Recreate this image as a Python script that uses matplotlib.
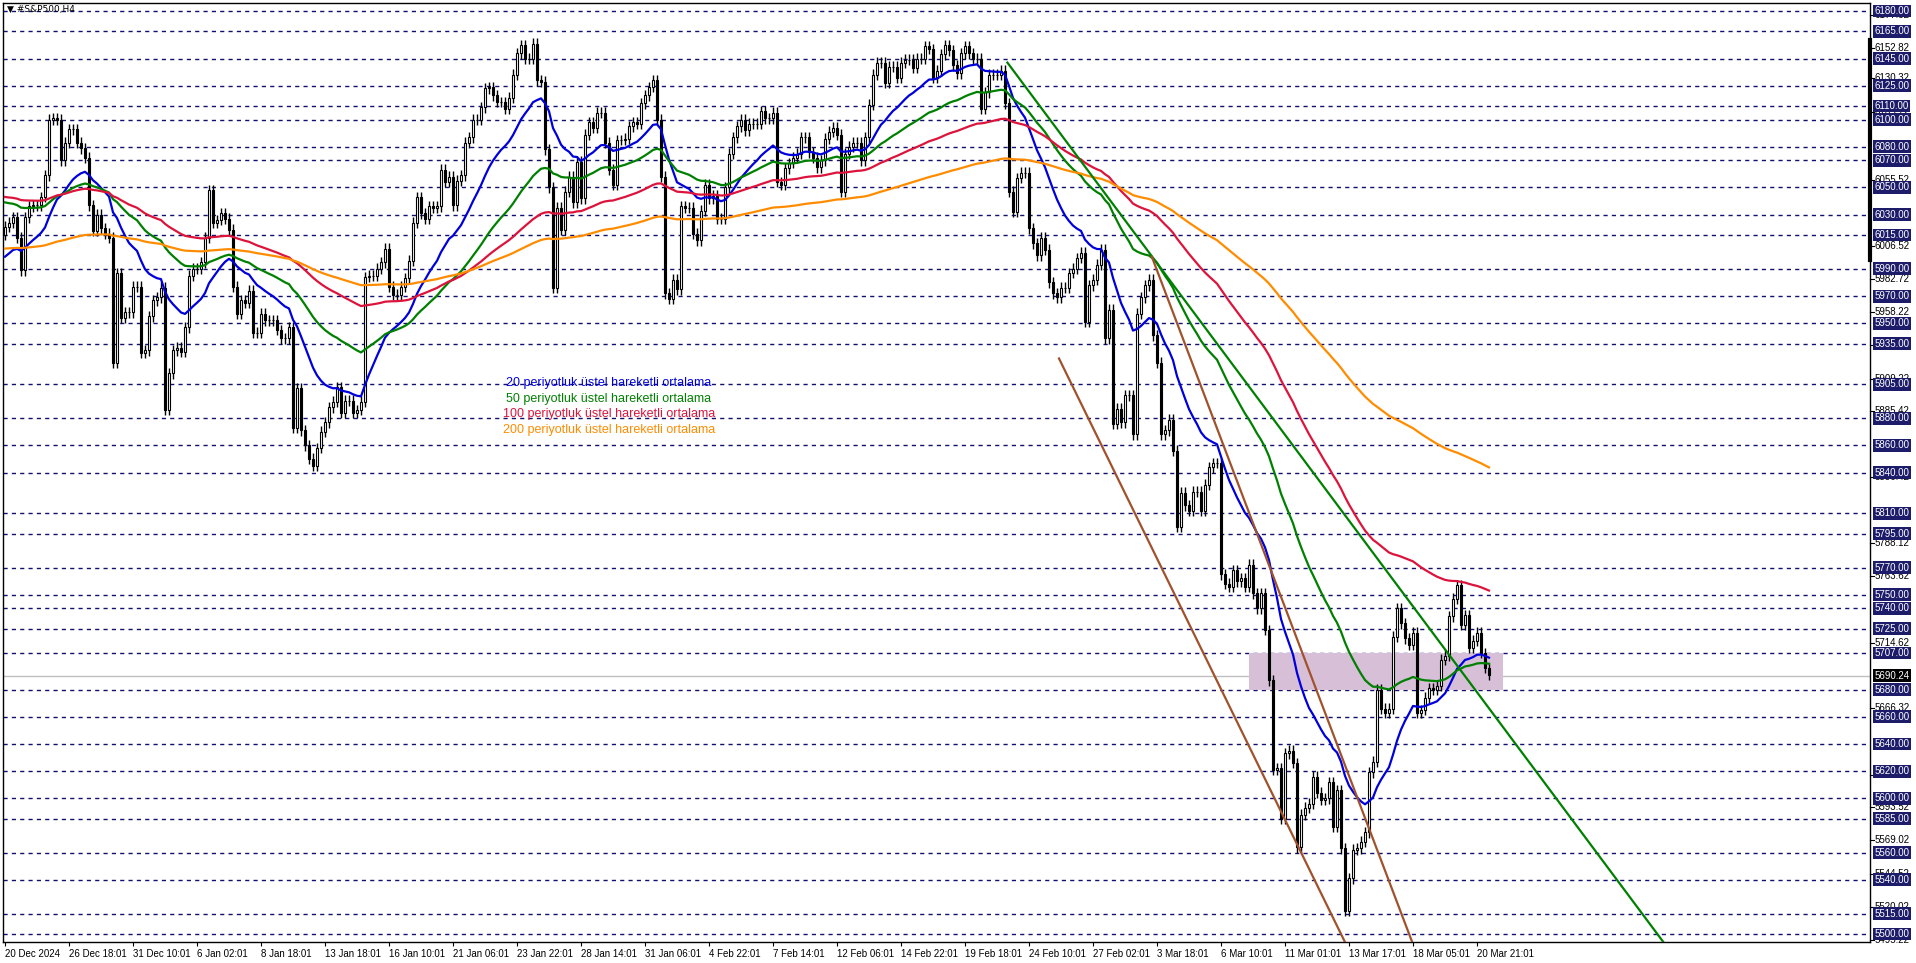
import numpy as np
import matplotlib
matplotlib.use("Agg")
import matplotlib.pyplot as plt
from matplotlib.transforms import blended_transform_factory

plt.rcParams['font.family'] = ['Liberation Sans', 'DejaVu Sans']

# ---- data (H4 closes)
closes = [
    6021, 6024, 6028, 6013, 5989, 6028, 6036, 6037, 6037, 6043,
    6059, 6100, 6101, 6100, 6070, 6083, 6093, 6093, 6083, 6079,
    6072, 6037, 6018, 6030, 6020, 6016, 6013, 5921, 5987, 5954,
    5958, 5958, 5977, 5977, 5928, 5930, 5955, 5967, 5969, 5976,
    5886, 5913, 5930, 5932, 5929, 5947, 5985, 5990, 5990, 5995,
    6013, 6048, 6024, 6026, 6031,
    6027, 6019, 5977, 5957, 5967, 5965, 5974, 5943, 5943, 5957,
    5952, 5952, 5952, 5945, 5939, 5939, 5947, 5873, 5902, 5871,
    5860, 5850, 5845, 5858, 5870,
    5877, 5888, 5892, 5903, 5884, 5893, 5893, 5884, 5886, 5892,
    5984, 5985, 5985, 5990, 5995, 6005, 5977, 5971, 5971, 5977,
    5983, 5996, 6024, 6043, 6031, 6027,
    6036, 6035, 6036, 6063, 6054, 6058, 6037, 6055, 6059, 6083,
    6087, 6100, 6100, 6109, 6123, 6124, 6118, 6113, 6113, 6108,
    6116, 6133, 6149, 6155, 6145, 6145, 6156, 6129, 6128, 6078,
    6050, 5976, 6035, 6019, 6047, 6058, 6039, 6069, 6042, 6089,
    6098, 6094, 6105, 6105, 6083, 6063, 6052, 6085, 6085, 6086,
    6095, 6098, 6097, 6112,
    6118, 6124, 6129, 6100, 6058, 5972, 5968, 5982, 5975, 6036,
    6035, 6035, 6016, 6011, 6033, 6052, 6042, 6044, 6027, 6027,
    6050, 6075, 6087, 6095, 6100, 6092, 6097, 6097, 6097, 6106,
    6101, 6101, 6105, 6054, 6052, 6064, 6068, 6072, 6075, 6087,
    6087, 6076, 6072, 6065, 6070, 6086, 6091, 6094, 6089,
    6047, 6075, 6080, 6083, 6083, 6070, 6087, 6111, 6133, 6142,
    6142, 6127, 6139, 6139, 6131, 6142, 6144, 6144, 6138, 6145,
    6145, 6154, 6152, 6131, 6136, 6148, 6155, 6151, 6140, 6134,
    6149, 6154, 6149, 6145, 6145, 6108, 6120, 6133, 6133, 6133,
    6136, 6112, 6047, 6032, 6057, 6061, 6061, 6020, 6009, 6000,
    6013, 6004, 5980, 5972,
    5969, 5976, 5976, 5987, 5990, 5998, 6002, 5951, 5978, 5982,
    5993, 6004, 5939, 5960, 5876, 5887, 5877, 5897, 5897, 5868,
    5957, 5969, 5978, 5982, 5941, 5921, 5868, 5871, 5879, 5856,
    5800, 5825, 5816, 5812, 5826, 5826, 5812, 5831, 5844, 5847,
    5847, 5765, 5758,
    5756, 5768, 5760, 5762, 5756, 5772, 5751, 5740, 5751, 5724,
    5687, 5621, 5622, 5585, 5633, 5635, 5626, 5564, 5588, 5593,
    5596, 5616, 5604, 5599, 5600, 5612, 5579, 5606, 5563, 5517,
    5541, 5562, 5563, 5568, 5575, 5619, 5627, 5680, 5666, 5663,
    5666, 5719, 5740, 5729, 5718, 5713, 5722, 5663, 5665, 5674,
    5681, 5680, 5683, 5702, 5705, 5734, 5747, 5757, 5728, 5735,
    5711, 5716, 5722, 5707, 5696, 5691,
]
first_open = 6015
ema_periods = [20, 50, 100, 200]
ema_seeds = [5999, 6039, 6043, 6005]   # values at the left edge
ema_colors = ['#0000dd', '#008000', '#dc143c', '#ff8c00']
legend_texts = ['20 periyotluk üstel hareketli ortalama',
                '50 periyotluk üstel hareketli ortalama',
                '100 periyotluk üstel hareketli ortalama',
                '200 periyotluk üstel hareketli ortalama']

levels = [6180, 6165, 6145, 6125, 6110, 6100, 6080, 6070, 6050, 6030, 6015,
          5990, 5970, 5950, 5935, 5905, 5880, 5860, 5840, 5810, 5795, 5770,
          5750, 5740, 5725, 5707, 5680, 5660, 5640, 5620, 5600, 5585, 5560,
          5540, 5515, 5500]
scale_prices = [6177.32, 6152.82, 6130.32, 6105.72, 6055.52, 6006.52,
                5982.72, 5958.22, 5933.72, 5909.22, 5885.42, 5836.42,
                5788.12, 5763.62, 5714.62, 5666.32, 5617.32, 5593.52,
                5569.02, 5544.52, 5520.02, 5495.22]
last_price = 5690.24

date_labels = ['20 Dec 2024', '26 Dec 18:01', '31 Dec 10:01', '6 Jan 02:01',
               '8 Jan 18:01', '13 Jan 18:01', '16 Jan 10:01', '21 Jan 06:01',
               '23 Jan 22:01', '28 Jan 14:01', '31 Jan 06:01', '4 Feb 22:01',
               '7 Feb 14:01', '12 Feb 06:01', '14 Feb 22:01', '19 Feb 18:01',
               '24 Feb 10:01', '27 Feb 02:01', '3 Mar 18:01', '6 Mar 10:01',
               '11 Mar 01:01', '13 Mar 17:01', '18 Mar 05:01', '20 Mar 21:01']
label_step = 16

# trend lines: (bar0, price0, bar1, price1)
green_trend = (250.6, 6142, 414.6, 5494)
brown_trends = [(263.5, 5924, 335.0, 5494), (286.7, 5999, 351.8, 5494)]
zone = (311, 374.5, 5680, 5707)

# ---- figure
W, H = 1916, 963
fig = plt.figure(figsize=(W / 100, H / 100), dpi=100)
L, R, T, B = 3, 1870, 3, 942
ax = fig.add_axes([L / W, 1 - B / H, (R - L) / W, (B - T) / H])
ax.set_xlim(-0.5, -0.5 + (R - L) / 4)
ax.set_ylim(5494.1, 6185.9)
for s in ax.spines.values():
    s.set_linewidth(1)

for lv in levels:
    ax.axhline(lv, color='#101070', lw=1, ls=(0, (3, 3)), zorder=1)
ax.axhline(last_price, color='#c0c0c0', lw=1, zorder=1)

x0, x1, y0, y1 = zone
ax.add_patch(plt.Rectangle((x0, y0), x1 - x0, y1 - y0, color='#d8bfd8',
                           zorder=1.5, lw=0))

c = np.array(closes, dtype=float)
o = np.concatenate([[first_open], c[:-1]])
x = np.arange(len(c))
WICK = 4
hi = np.maximum(o, c) + WICK
lo = np.minimum(o, c) - WICK
ax.vlines(x, lo, hi, color='black', lw=1, zorder=3)
up = c >= o
ax.bar(x[up], (c - o)[up], bottom=o[up], width=0.7, color='white',
       edgecolor='black', lw=0.8, zorder=4)
ax.bar(x[~up], (c - o)[~up], bottom=o[~up], width=0.7, color='black',
       edgecolor='black', lw=0.8, zorder=4)

for p, seed, col in zip(ema_periods, ema_seeds, ema_colors):
    a = 2 / (p + 1)
    e = [seed]
    for v in c[1:]:
        e.append(e[-1] + a * (v - e[-1]))
    ax.plot(x, e, color=col, lw=1.6, zorder=5)

b0, p0, b1, p1 = green_trend
ax.plot([b0, b1], [p0, p1], color='#008000', lw=1.6, zorder=5)
for b0, p0, b1, p1 in brown_trends:
    ax.plot([b0, b1], [p0, p1], color='#a0522d', lw=1.6, zorder=5)

for k, (t, col) in enumerate(zip(legend_texts, ema_colors)):
    fig.text(609 / W, 1 - (383 + 15.6 * k) / H, t, color=col, fontsize=9,
             ha='center', va='center')

fig.text(7 / W, 1 - 9 / H, '▼ #S&P500,H4', fontsize=6.5, va='center',
         family=['DejaVu Sans'])

# bottom time axis
ax.set_xticks(np.arange(0, len(date_labels) * label_step, label_step))
ax.set_xticklabels(date_labels, ha='left', fontsize=7)
ax.tick_params(axis='x', length=3, pad=2)
ax.set_yticks([])

# right price scale
tr = blended_transform_factory(ax.transAxes, ax.transData)
for p in scale_prices:
    ax.plot([1.0, 1.002], [p, p], color='black', lw=0.8, transform=tr,
            clip_on=False)
    ax.text(1.0025, p, '%.2f' % p, transform=tr, fontsize=7, va='center',
            ha='left', color='black')
for lv in levels:
    ax.text(1.0025, lv, '%.2f' % lv, transform=tr, fontsize=7, va='center',
            ha='left', color='white',
            bbox=dict(boxstyle='square,pad=0.15', fc='#1c1c6a', ec='none'))
ax.text(1.0025, last_price, '%.2f' % last_price, transform=tr, fontsize=7,
        va='center', ha='left', color='white',
        bbox=dict(boxstyle='square,pad=0.15', fc='black', ec='none'))
ax.plot([1.0, 1.0], [6158.6, 5996.5], color='black', lw=3, transform=tr,
        clip_on=False)

fig.savefig('out.png', dpi=100)
